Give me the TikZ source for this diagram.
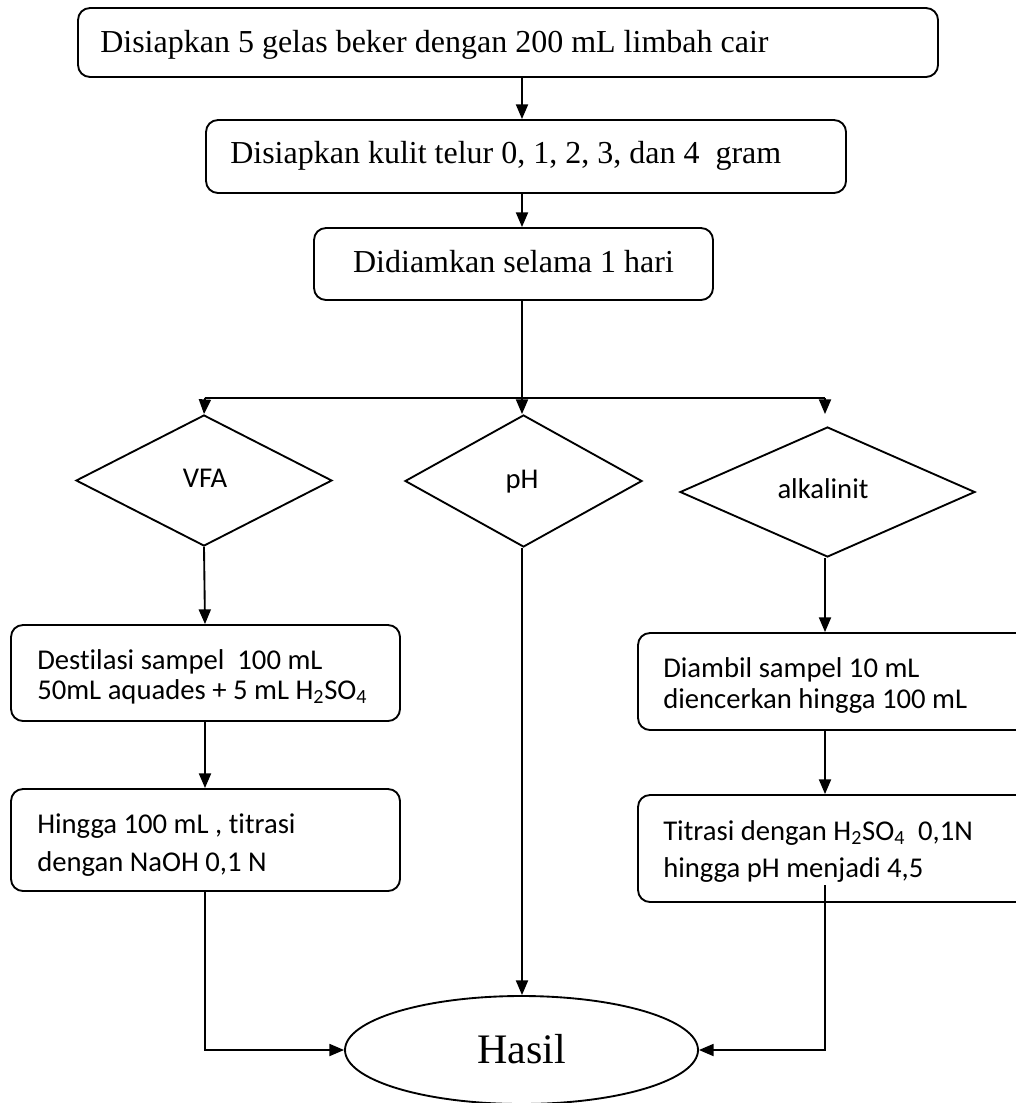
\documentclass[tikz,border=0pt]{standalone}
\usepackage{fontspec}
\setmainfont{Liberation Serif}
\newfontfamily\calfont[Ligatures=CommonOff]{Carlito}
\usetikzlibrary{shapes.geometric,arrows.meta}
\begin{document}
\begin{tikzpicture}[x=0.75pt,y=-0.75pt,
  box/.style={draw, line width=1.4pt, rounded corners=9pt, inner sep=0pt, rectangle},
  dia/.style={draw, diamond, line width=1.4pt, inner sep=0pt},
  lbl/.style={inner sep=0pt, anchor=base west},
  serif/.style={font=\fontsize{24}{28}\selectfont},
  calt/.style={font=\calfont\fontsize{21.5}{25}\selectfont},
  cald/.style={font=\calfont\fontsize{21.5}{25}\selectfont, inner sep=0pt, anchor=base},
  arr/.style={-{Triangle[length=11pt,width=9pt]}, line width=1.4pt},
  ln/.style={line width=1.4pt}]
\useasboundingbox (0,0) rectangle (1016,1103);

% guide coordinates
\coordinate (xl) at (205,0);
\coordinate (xm) at (522,0);
\coordinate (xr) at (825,0);
\coordinate (split) at (522,398);
\coordinate (splitl) at (205,398);
\coordinate (splitr) at (825,398);

% boxes
\node[box, minimum width=645pt, minimum height=51.75pt] (b1) at (508,42.5) {};
\node[box, minimum width=480pt, minimum height=54.75pt] (b2) at (526,156.5) {};
\node[box, minimum width=299.25pt, minimum height=54pt] (b3) at (513.5,264) {};
\node[dia, minimum width=192pt, minimum height=98.25pt] (vfa) at (204,480.5) {};
\node[dia, minimum width=177.75pt, minimum height=99pt] (ph) at (523.5,481) {};
\node[dia, minimum width=221.25pt, minimum height=97.5pt] (alk) at (827.5,492) {};
\node[box, minimum width=291.75pt, minimum height=72pt] (b4) at (205.5,673) {};
\node[box, minimum width=291.75pt, minimum height=76.5pt] (b5) at (205.5,840) {};
\node[box, minimum width=294pt, minimum height=72.75pt] (b6) at (834,681.5) {};
\node[box, minimum width=294pt, minimum height=80.25pt] (b7) at (834,848.5) {};
\node[draw, ellipse, line width=1.4pt, inner sep=0pt, minimum width=264.75pt, minimum height=81pt] (hasil) at (521.5,1050) {};

% texts
\node[lbl, serif] (t1) at (100,52) {Disiapkan 5 gelas beker dengan 200 mL limbah cair};
\node[lbl, serif] (t2) at (230,163) {Disiapkan kulit telur 0, 1, 2, 3, dan 4\ \ gram};
\node[serif, inner sep=0pt, anchor=base] (t3) at (513.5,272) {Didiamkan selama 1 hari};
\node[cald] (tv) at (205,487) {VFA};
\node[cald] (tp) at (522,488) {pH};
\node[cald] (ta) at (823,498) {alkalinit};
\begin{scope}
  \clip (11,600) rectangle (400,705);
  \node[lbl, calt] (t4a) at (37,669) {Destilasi sampel\ \ 100 mL};
  \node[lbl, calt] (t4b) at (37,699) {50mL aquades + 5 mL H\textsubscript{2}SO\textsubscript{4}};
\end{scope}
\begin{scope}
  \clip (11,780) rectangle (400,875);
  \node[lbl, calt] (t5a) at (37,833) {Hingga 100 mL , titrasi};
  \node[lbl, calt] (t5b) at (37,871) {dengan NaOH 0,1 N};
\end{scope}
\begin{scope}
  \clip (638,600) rectangle (1016,714);
  \node[lbl, calt] (t6a) at (663,677) {Diambil sampel 10 mL};
  \node[lbl, calt] (t6b) at (663,708) {diencerkan hingga 100 mL};
\end{scope}
\node[lbl, calt] (t7a) at (663,840) {Titrasi dengan H\textsubscript{2}SO\textsubscript{4}\ \ 0,1N};
\node[lbl, calt] (t7b) at (663,877) {hingga pH menjadi 4,5};
\node[inner sep=0pt, anchor=base, font=\fontsize{31.5}{36}\selectfont] (th) at (521.5,1063) {Hasil};

% connectors
\draw[arr] (b1.south -| xm) -- (b2.north -| xm);
\draw[arr] (b2.south -| xm) -- (b3.north -| xm);
\draw[ln] (b3.south -| xm) -- (split);
\draw[ln] (splitl) -- (splitr);
\draw[arr] (splitl) -- (vfa.north);
\draw[arr] (split) -- (ph.north -| xm);
\draw[arr, shorten >=9pt] (splitr) -- (alk.north -| xr);
\draw[arr] (vfa.south) -- (b4.north -| xl);
\draw[arr] (b4.south -| xl) -- (b5.north -| xl);
\draw[arr] (b5.south -| xl) |- (hasil.west);
\draw[arr] (ph.south -| xm) -- (hasil.north -| xm);
\draw[arr] (alk.south -| xr) -- (b6.north -| xr);
\draw[arr] (b6.south -| xr) -- (b7.north -| xr);
\coordinate (b7in) at (825,885);
\draw[arr] (b7in) |- (hasil.east);
\end{tikzpicture}
\end{document}
